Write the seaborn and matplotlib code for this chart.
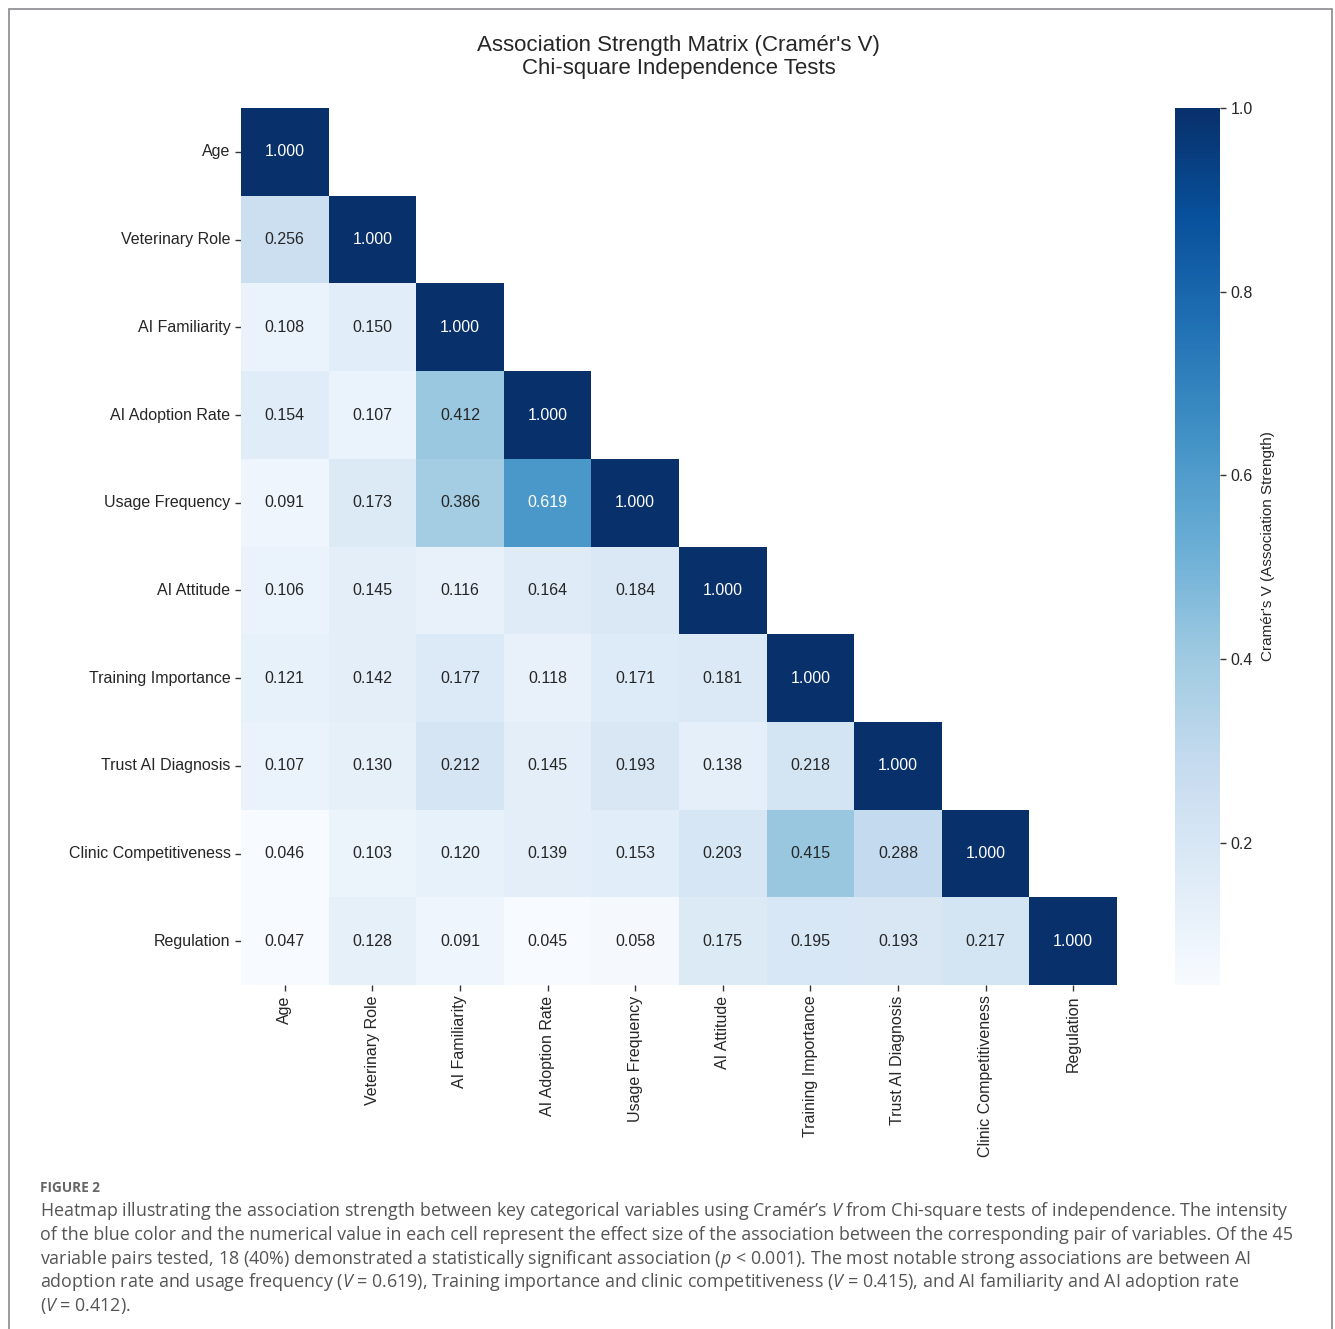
import numpy as np
import pandas as pd
import matplotlib
matplotlib.use("Agg")
import matplotlib.pyplot as plt
from matplotlib.patches import Rectangle
import seaborn as sns

# Variables tested pairwise
variables = [
    "Age", "Veterinary Role", "AI Familiarity", "AI Adoption Rate",
    "Usage Frequency", "AI Attitude", "Training Importance",
    "Trust AI Diagnosis", "Clinic Competitiveness", "Regulation",
]

# Cramér's V, lower triangle rows (diagonal included)
row_age = [1.000]
row_role = [0.256, 1.000]
row_familiarity = [0.108, 0.150, 1.000]
row_adoption = [0.154, 0.107, 0.412, 1.000]
row_usage = [0.091, 0.173, 0.386, 0.619, 1.000]
row_attitude = [0.106, 0.145, 0.116, 0.164, 0.184, 1.000]
row_training = [0.121, 0.142, 0.177, 0.118, 0.171, 0.181, 1.000]
row_trust = [0.107, 0.130, 0.212, 0.145, 0.193, 0.138, 0.218, 1.000]
row_clinic = [0.046, 0.103, 0.120, 0.139, 0.153, 0.203, 0.415, 0.288, 1.000]
row_regulation = [0.047, 0.128, 0.091, 0.045, 0.058, 0.175, 0.195, 0.193, 0.217, 1.000]

rows = [row_age, row_role, row_familiarity, row_adoption, row_usage,
        row_attitude, row_training, row_trust, row_clinic, row_regulation]

n = len(variables)
mat = np.full((n, n), np.nan)
for i, r in enumerate(rows):
    mat[i, :len(r)] = r
    mat[:len(r), i] = r
df = pd.DataFrame(mat, index=variables, columns=variables)
mask = np.triu(np.ones((n, n), dtype=bool), k=1)

sns.set_style("white")
plt.rcParams["font.family"] = ["Liberation Sans", "DejaVu Sans"]
plt.rcParams["mathtext.fontset"] = "custom"
plt.rcParams["mathtext.rm"] = "Open Sans"
plt.rcParams["mathtext.it"] = "Open Sans:italic"

fig = plt.figure(figsize=(13.35, 13.29), dpi=100)
ax = fig.add_axes([0.1805, 0.2588, 0.6562, 0.6599])
cax = fig.add_axes([0.8801, 0.2588, 0.0338, 0.6599])

sns.heatmap(
    df, mask=mask, cmap="Blues", annot=True, fmt=".3f",
    annot_kws={"fontsize": 11.5}, ax=ax, cbar_ax=cax,
    cbar_kws={"label": "Cramér's V (Association Strength)"},
    square=False, linewidths=0,
)

ax.tick_params(axis="both", which="major", length=4, width=1,
               color="#333333", labelsize=11.5, bottom=True, left=True)
ax.set_xticklabels(variables, rotation=90, fontsize=11.5)
ax.set_yticklabels(variables, rotation=0, fontsize=11.5)
ax.set_xlabel("")
ax.set_ylabel("")

cax.tick_params(labelsize=11.5, length=4, width=1, color="#333333", right=True)
cax.set_yticks([0.2, 0.4, 0.6, 0.8, 1.0])
cax.set_yticklabels(["0.2", "0.4", "0.6", "0.8", "1.0"])
cax.yaxis.label.set_size(11)
cax.yaxis.labelpad = 6
for s in cax.spines.values():
    s.set_visible(False)

fig.text(0.5085, 1 - 57 / 1329, "Association Strength Matrix (Cramér's V)\nChi-square Independence Tests",
         ha="center", va="center", fontsize=16, linespacing=1.15)

# Figure frame
fig.patches.append(Rectangle((9 / 1335, -0.05), (1332 - 9) / 1335, 1.05 - 9 / 1329,
                             transform=fig.transFigure, fill=False,
                             edgecolor="#8a8a8f", linewidth=1.2))

# Caption
cap_color = "#555555"
fig.text(40 / 1335, 1 - 1188 / 1329, "FIGURE 2", fontsize=9.8, fontweight="bold",
         color="#666666", family="Open Sans", va="center", ha="left")
caption_lines = [
    r"Heatmap illustrating the association strength between key categorical variables using Cramér’s $\mathit{V}$ from Chi-square tests of independence. The intensity",
    "of the blue color and the numerical value in each cell represent the effect size of the association between the corresponding pair of variables. Of the 45",
    r"variable pairs tested, 18 (40%) demonstrated a statistically significant association ($\mathit{p}$ < 0.001). The most notable strong associations are between AI",
    r"adoption rate and usage frequency ($\mathit{V}$ = 0.619), Training importance and clinic competitiveness ($\mathit{V}$ = 0.415), and AI familiarity and AI adoption rate",
    r"($\mathit{V}$ = 0.412).",
]
for k, line in enumerate(caption_lines):
    y = 1211 + k * 23.8
    fig.text(40 / 1335, 1 - y / 1329, line, fontsize=12.85, color=cap_color,
             family="Open Sans", va="center", ha="left")

fig.savefig("out.png", dpi=100)
